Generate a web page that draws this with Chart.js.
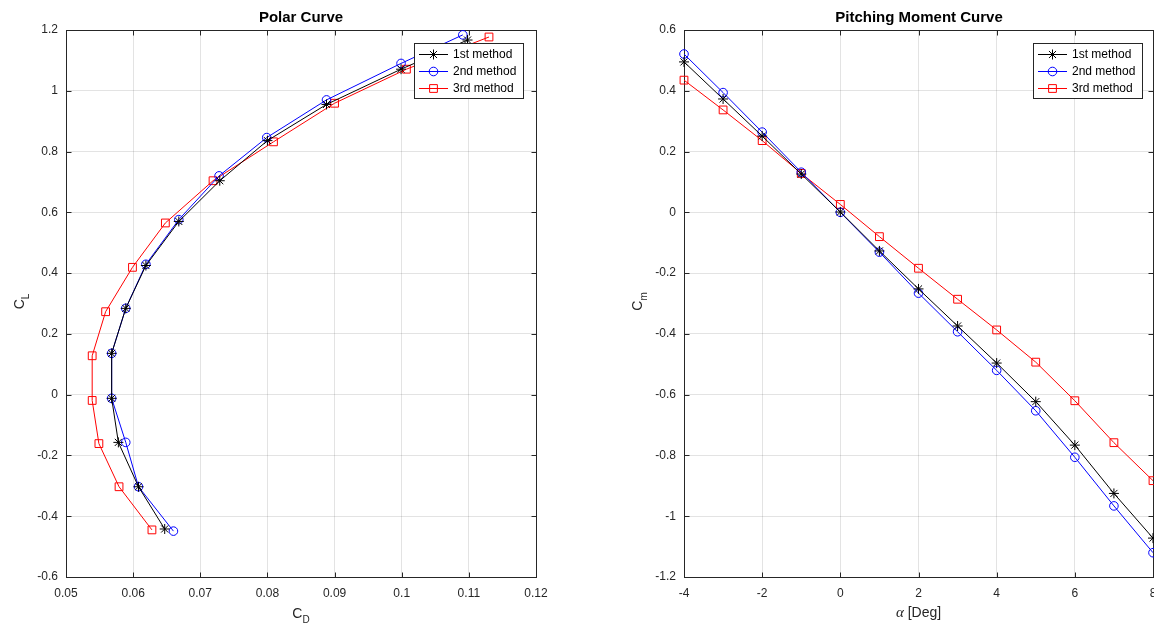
<!DOCTYPE html>
<html>
<head>
<meta charset="utf-8">
<script src="https://cdn.jsdelivr.net/npm/chart.js@4.4.1/dist/chart.umd.min.js"></script>
<style>
  html, body { margin: 0; padding: 0; background: #fff; overflow: hidden; }
  body { width: 1154px; height: 623px; position: relative; }
  #polarChart { position: absolute; left: 0; top: 0; }
  #momentChart { position: absolute; left: 602px; top: 0; }
</style>
</head>
<body>
<canvas id="polarChart" width="602" height="623"></canvas>
<canvas id="momentChart" width="634" height="623"></canvas>
<script>
const methodNames = ['1st method', '2nd method', '3rd method'];
const alphaDeg = [-4, -3, -2, -1, 0, 1, 2, 3, 4, 5, 6, 7, 8];

// polar curve (CD, CL) per method
const cd1 = [0.0647, 0.0608, 0.0578, 0.0568, 0.0568, 0.0589, 0.0619, 0.0668, 0.0729, 0.0800, 0.0888, 0.0999, 0.1098];
const cl1 = [-0.442, -0.303, -0.157, -0.012, 0.136, 0.284, 0.425, 0.570, 0.704, 0.836, 0.955, 1.071, 1.167];
const cd2 = [0.0660, 0.0608, 0.0589, 0.0568, 0.0568, 0.0589, 0.0619, 0.0668, 0.0728, 0.0799, 0.0888, 0.0999, 0.1091];
const cl2 = [-0.449, -0.303, -0.157, -0.012, 0.136, 0.284, 0.429, 0.576, 0.720, 0.846, 0.970, 1.090, 1.184];
const cd3 = [0.0628, 0.0579, 0.0549, 0.0539, 0.0539, 0.0559, 0.0599, 0.0648, 0.0719, 0.0809, 0.0900, 0.1007, 0.1130];
const cl3 = [-0.445, -0.303, -0.161, -0.019, 0.128, 0.273, 0.419, 0.565, 0.704, 0.832, 0.959, 1.071, 1.177];

// pitching moment Cm vs alpha per method
const cm1 = [0.495, 0.373, 0.251, 0.126, 0.001, -0.127, -0.252, -0.374, -0.496, -0.623, -0.766, -0.925, -1.072];
const cm2 = [0.521, 0.394, 0.264, 0.132, 0.000, -0.131, -0.266, -0.393, -0.520, -0.653, -0.806, -0.966, -1.120];
const cm3 = [0.435, 0.337, 0.236, 0.128, 0.026, -0.080, -0.184, -0.286, -0.387, -0.493, -0.620, -0.758, -0.883];

// tick values and labels
const polarXTicks = [0.05, 0.06, 0.07, 0.08, 0.09, 0.10, 0.11, 0.12];
const polarXLabels = ['0.05', '0.06', '0.07', '0.08', '0.09', '0.1', '0.11', '0.12'];
const polarYTicks = [-0.6, -0.4, -0.2, 0, 0.2, 0.4, 0.6, 0.8, 1.0, 1.2];
const polarYLabels = ['-0.6', '-0.4', '-0.2', '0', '0.2', '0.4', '0.6', '0.8', '1', '1.2'];
const momentXTicks = [-4, -2, 0, 2, 4, 6, 8];
const momentXLabels = ['-4', '-2', '0', '2', '4', '6', '8'];
const momentYTicks = [-1.2, -1.0, -0.8, -0.6, -0.4, -0.2, 0, 0.2, 0.4, 0.6];
const momentYLabels = ['-1.2', '-1', '-0.8', '-0.6', '-0.4', '-0.2', '0', '0.2', '0.4', '0.6'];

const sansFont = "'Liberation Sans', Arial, Helvetica, sans-serif";
Chart.defaults.font.family = sansFont;
Chart.defaults.color = '#262626';
Chart.defaults.animation = false;

const toPoints = (xs, ys) => xs.map((x, i) => ({ x: x, y: ys[i] }));

const lineStyles = [
  { borderColor: '#000000', pointStyle: 'star', pointRadius: 5 },
  { borderColor: '#0000ff', pointStyle: 'circle', pointRadius: 4.3 },
  { borderColor: '#ff0000', pointStyle: 'rect', pointRadius: 5.5 },
];

function makeDataset(i, points) {
  const s = lineStyles[i];
  return {
    label: methodNames[i],
    data: points,
    showLine: true,
    xAxisID: 'x',
    yAxisID: 'y',
    borderColor: s.borderColor,
    borderWidth: 1,
    pointStyle: s.pointStyle,
    pointRadius: s.pointRadius,
    pointHoverRadius: s.pointRadius,
    pointBorderColor: s.borderColor,
    pointBackgroundColor: 'rgba(0,0,0,0)',
    pointBorderWidth: 1,
    tension: 0,
    clip: false,
  };
}

function axis(position, min, max, ticks, labels, size) {
  const isX = position === 'bottom';
  return {
    type: 'linear',
    position: position,
    min: min,
    max: max,
    afterBuildTicks: (scale) => { scale.ticks = ticks.map(v => ({ value: v })); },
    afterFit: (scale) => { if (isX) scale.height = size; else scale.width = size; },
    grid: { color: 'rgba(38,38,38,0.13)', lineWidth: 1, drawTicks: false },
    border: { display: false },
    ticks: {
      autoSkip: false,
      maxRotation: 0,
      padding: isX ? 9 : 8,
      font: { size: 12 },
      color: '#262626',
      callback: (v, i) => labels[i],
    },
  };
}

function spacer(size) {
  return {
    type: 'linear',
    position: 'right',
    display: true,
    grid: { display: false, drawTicks: false },
    border: { display: false },
    ticks: { display: false },
    afterFit: (scale) => { scale.width = size; },
  };
}

// MATLAB style box with inward ticks plus axis titles with subscripts
const matlabAxes = {
  id: 'matlabAxes',
  beforeDatasetsDraw(chart) {
    const { ctx, chartArea: a } = chart;
    const xs = chart.scales.x, ys = chart.scales.y;
    const al = v => Math.round(v) + 0.5;
    const L = al(a.left), R = al(a.right), T = al(a.top), B = al(a.bottom);
    ctx.save();
    ctx.strokeStyle = '#262626';
    ctx.lineWidth = 1;
    ctx.strokeRect(L, T, R - L, B - T);
    ctx.beginPath();
    xs.ticks.forEach(t => {
      const p = al(xs.getPixelForValue(t.value));
      ctx.moveTo(p, B); ctx.lineTo(p, B - 5);
      ctx.moveTo(p, T); ctx.lineTo(p, T + 5);
    });
    ys.ticks.forEach(t => {
      const p = al(ys.getPixelForValue(t.value));
      ctx.moveTo(L, p); ctx.lineTo(L + 5, p);
      ctx.moveTo(R, p); ctx.lineTo(R - 5, p);
    });
    ctx.stroke();
    ctx.restore();
  },
  afterDraw(chart, args, opts) {
    const { ctx, chartArea: a } = chart;
    const drawParts = (parts, cx, cy, rotate) => {
      ctx.save();
      ctx.translate(cx, cy);
      if (rotate) ctx.rotate(-Math.PI / 2);
      ctx.fillStyle = '#262626';
      ctx.textBaseline = 'alphabetic';
      ctx.textAlign = 'left';
      let total = 0;
      parts.forEach(p => { ctx.font = p.font; p.w = ctx.measureText(p.text).width; total += p.w; });
      let x = -total / 2;
      parts.forEach(p => { ctx.font = p.font; ctx.fillText(p.text, x, p.dy || 0); x += p.w; });
      ctx.restore();
    };
    drawParts(opts.xTitle, (a.left + a.right) / 2, opts.xBaseline, false);
    drawParts(opts.yTitle, opts.yBaseline, (a.top + a.bottom) / 2 - 2, true);
  },
};

// legend box inside the upper right corner of the axes
const insideLegend = {
  id: 'insideLegend',
  afterDatasetsDraw(chart, args, opts) {
    const { ctx, chartArea: a } = chart;
    const w = 109, h = 55;
    const x0 = Math.round(a.right - opts.right - w);
    const y0 = Math.round(a.top + 13);
    ctx.save();
    ctx.fillStyle = '#ffffff';
    ctx.fillRect(x0, y0, w, h);
    ctx.strokeStyle = '#262626';
    ctx.lineWidth = 1;
    ctx.strokeRect(x0 + 0.5, y0 + 0.5, w, h);
    ctx.font = '12px ' + sansFont;
    ctx.textBaseline = 'middle';
    ctx.textAlign = 'left';
    chart.data.datasets.forEach((ds, i) => {
      const cy = y0 + 11.5 + i * 17;
      ctx.strokeStyle = ds.borderColor;
      ctx.lineWidth = 1;
      ctx.beginPath();
      ctx.moveTo(x0 + 5, cy);
      ctx.lineTo(x0 + 34, cy);
      ctx.stroke();
      ctx.fillStyle = 'rgba(0,0,0,0)';
      Chart.helpers.drawPoint(ctx, { pointStyle: ds.pointStyle, radius: ds.pointRadius, borderWidth: 1, rotation: 0 }, x0 + 19.5, cy);
      ctx.fillStyle = '#000000';
      ctx.fillText(ds.label, x0 + 39, cy + 0.5);
    });
    ctx.restore();
  },
};

const titleFont = { size: 15, weight: 'bold', family: sansFont };

new Chart(document.getElementById('polarChart'), {
  type: 'scatter',
  data: {
    datasets: [
      makeDataset(0, toPoints(cd1, cl1)),
      makeDataset(1, toPoints(cd2, cl2)),
      makeDataset(2, toPoints(cd3, cl3)),
    ],
  },
  options: {
    responsive: false,
    events: [],
    layout: { padding: 0 },
    scales: {
      x: axis('bottom', 0.05, 0.12, polarXTicks, polarXLabels, 46),
      y: axis('left', -0.6, 1.2, polarYTicks, polarYLabels, 66),
      pad: spacer(66),
    },
    plugins: {
      legend: { display: false },
      tooltip: { enabled: false },
      title: { display: true, text: 'Polar Curve', color: '#000', font: titleFont, padding: { top: 9, bottom: 3 } },
      matlabAxes: {
        xBaseline: 618,
        yBaseline: 24,
        xTitle: [
          { text: 'C', font: '14px ' + sansFont },
          { text: 'D', font: '10px ' + sansFont, dy: 5 },
        ],
        yTitle: [
          { text: 'C', font: '14px ' + sansFont },
          { text: 'L', font: '10px ' + sansFont, dy: 5 },
        ],
      },
      insideLegend: { right: 13 },
    },
  },
  plugins: [matlabAxes, insideLegend],
});

new Chart(document.getElementById('momentChart'), {
  type: 'scatter',
  data: {
    datasets: [
      makeDataset(0, toPoints(alphaDeg, cm1)),
      makeDataset(1, toPoints(alphaDeg, cm2)),
      makeDataset(2, toPoints(alphaDeg, cm3)),
    ],
  },
  options: {
    responsive: false,
    events: [],
    layout: { padding: 0 },
    scales: {
      x: axis('bottom', -4, 8, momentXTicks, momentXLabels, 46),
      y: axis('left', -1.2, 0.6, momentYTicks, momentYLabels, 82),
      pad: spacer(83),
    },
    plugins: {
      legend: { display: false },
      tooltip: { enabled: false },
      title: { display: true, text: 'Pitching Moment Curve', color: '#000', font: titleFont, padding: { top: 9, bottom: 3 } },
      matlabAxes: {
        xBaseline: 617,
        yBaseline: 40,
        xTitle: [
          { text: '\u03b1', font: 'italic 15px "Liberation Serif", "DejaVu Serif", serif' },
          { text: ' [Deg]', font: '14px ' + sansFont },
        ],
        yTitle: [
          { text: 'C', font: '14px ' + sansFont },
          { text: 'm', font: '10px ' + sansFont, dy: 5 },
        ],
      },
      insideLegend: { right: 11 },
    },
  },
  plugins: [matlabAxes, insideLegend],
});
</script>
</body>
</html>
